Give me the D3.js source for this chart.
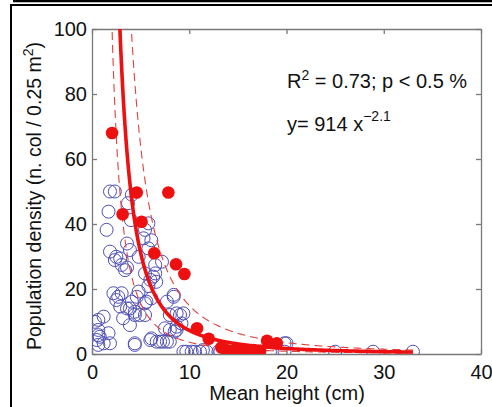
<!DOCTYPE html>
<html>
<head>
<meta charset="utf-8">
<script src="https://cdn.jsdelivr.net/npm/d3@7"></script>
<style>
  body { margin: 0; background: #fff; }
  text { font-family: "Liberation Sans", Arial, sans-serif; fill: #111; }
</style>
</head>
<body>
<script>
// fitted power law y = a * x^b, with the two dashed bands
var fitA = 914, fitB = -2.1;
var bandLowA = 457, bandHighA = 1880;
var fitRange = [1.5, 33];

var xTicks = [0, 10, 20, 30, 40];
var yTicks = [0, 20, 40, 60, 80, 100];

// red filled points
var redPoints = [
  [2.06, 68], [4.6, 49.7], [7.85, 49.7], [3.15, 43], [5.1, 40.7], [6.4, 31],
  [8.64, 27.6], [9.5, 24.6], [10.8, 7.9], [12.0, 4.7], [13.3, 2.0], [13.8, 1.2],
  [14.5, 1.0], [15.2, 1.2], [15.9, 1.0], [16.6, 1.2], [17.3, 1.0], [18.0, 4.1], [19.0, 3.3]
];

// blue open points
var openPoints = [
  [1.85, 50], [2.35, 50], [4.1, 49], [3.7, 46.4], [1.7, 43.8], [4.0, 41.2],
  [1.5, 38.2], [5.45, 38.2], [5.8, 40.2], [5.3, 35.6], [6.1, 35], [5.8, 32.5], [3.6, 34], [3.9, 32],
  [1.85, 31.5], [2.5, 29.9], [2.9, 29.4], [2.35, 28.9], [3.05, 27.4], [4.8, 29.9],
  [7.2, 28.4], [6.5, 27.4], [3.6, 26.6], [3.4, 25.8], [6.3, 23.8], [6.6, 22.2], [6.5, 24.8],
  [5.45, 24.8], [6.0, 22.8], [5.8, 20.9], [2.2, 18.7], [2.7, 17.6], [3.05, 18.7], [2.5, 16.6],
  [4.8, 19.2], [4.6, 17.6], [4.1, 16.1], [5.6, 16.1], [5.45, 15.6], [3.6, 14], [2.9, 14.6],
  [3.9, 14], [4.4, 13], [4.9, 12], [4.4, 12], [5.45, 12], [3.2, 11], [3.9, 8.9],
  [1.2, 11.5], [0.3, 9.9], [0.65, 10.5], [0.65, 7.4], [0.8, 5.3], [0.65, 5.8], [0.5, 4.3],
  [1.2, 3.3], [0.65, 2.8], [1.85, 3.3], [1.7, 6.4], [4.4, 2.8], [4.4, 3.3],
  [6.1, 4.8], [6.0, 4.3], [6.65, 3.8], [7.0, 3.8], [7.3, 3.8], [7.7, 3.8], [8.0, 3.8],
  [7.5, 7.9], [8.0, 7.4], [8.5, 6.9], [8.7, 8.4], [8.7, 7.4], [8.0, 12], [9.05, 12],
  [8.7, 12.5], [9.4, 12.5], [8.4, 17.6], [8.4, 18.2], [7.7, 16.1], [6.1, 17.1], [9.2, 9.4],
  [9.4, 0.7], [9.7, 0.7], [10.25, 0.7], [10.6, 0.7], [11.1, 0.7], [11.4, 1.2], [11.8, 0.7],
  [13.0, 0.7], [13.2, 0.7], [14.5, 0.7], [17.1, 0.7], [18.3, 0.7], [19.8, 0.7], [19.8, 3.3],
  [20.0, 3.3], [25, 0.7], [28.9, 0.7], [33, 0.7]
];

var W = 492, H = 407;
var pL = 92, pR = 481, pT = 29, pB = 354;

var svg = d3.select("body").append("svg").attr("width", W).attr("height", H);

// outer frame like the source figure
svg.append("line").attr("x1", 13).attr("x2", W).attr("y1", 1).attr("y2", 1)
  .style("stroke", "#000").style("stroke-width", 2.5);
svg.append("path").attr("d", "M11," + H + "V5H" + W)
  .style("fill", "none").style("stroke", "#000").style("stroke-width", 2);

var x = d3.scaleLinear().domain([0, 40]).range([pL, pR]);
var y = d3.scaleLinear().domain([0, 100]).range([pB, pT]);

svg.append("defs").append("clipPath").attr("id", "plot")
  .append("rect").attr("x", pL).attr("y", pT)
  .attr("width", pR - pL).attr("height", pB - pT);

// axes, matlab style box with inward ticks
var ax = svg.append("g").attr("class", "axes");
ax.append("g").attr("transform", "translate(0," + pB + ")")
  .call(d3.axisBottom(x).tickValues(xTicks).tickSizeInner(-5).tickSizeOuter(0).tickPadding(11));
ax.append("g").attr("transform", "translate(" + pL + ",0)")
  .call(d3.axisLeft(y).tickValues(yTicks).tickSizeInner(-5).tickSizeOuter(0).tickPadding(5));
ax.append("g").attr("transform", "translate(0," + pT + ")")
  .call(d3.axisTop(x).tickValues(xTicks).tickSizeInner(-5).tickSizeOuter(0).tickFormat(""));
ax.append("g").attr("transform", "translate(" + pR + ",0)")
  .call(d3.axisRight(y).tickValues(yTicks).tickSizeInner(-5).tickSizeOuter(0).tickFormat(""));
ax.selectAll("path, line").style("stroke", "#7a7a7a").style("stroke-width", 1.3);
ax.selectAll("text").style("font-size", "20px").style("fill", "#111")
  .style("font-family", "'Liberation Sans', Arial, sans-serif");

var plot = svg.append("g").attr("clip-path", "url(#plot)");

plot.selectAll("circle.open").data(openPoints).enter().append("circle")
  .attr("class", "open")
  .attr("cx", function(d) { return x(d[0]); })
  .attr("cy", function(d) { return y(d[1]); })
  .attr("r", 6.5)
  .style("fill", "none").style("stroke", "#4f4fb6").style("stroke-width", 1);

var xs = d3.range(fitRange[0], fitRange[1] + 0.001, 0.05);
var curve = function(a) {
  return d3.line()
    .x(function(d) { return x(d); })
    .y(function(d) { return y(a * Math.pow(d, fitB)); })(xs);
};

// dashed confidence bands
[bandLowA, bandHighA].forEach(function(a) {
  plot.append("path").attr("d", curve(a))
    .style("fill", "none").style("stroke", "#e4403f").style("stroke-width", 1.1)
    .style("stroke-dasharray", "8,5");
});

// fitted curve
plot.append("path").attr("d", curve(fitA))
  .style("fill", "none").style("stroke", "#ee1010").style("stroke-width", 3.6);

plot.selectAll("circle.red").data(redPoints).enter().append("circle")
  .attr("class", "red")
  .attr("cx", function(d) { return x(d[0]); })
  .attr("cy", function(d) { return y(d[1]); })
  .attr("r", 6.3)
  .style("fill", "#ee1010");

// annotations
var t1 = svg.append("text").attr("x", 287).attr("y", 88).style("font-size", "20px");
t1.append("tspan").text("R");
t1.append("tspan").attr("dy", -8).style("font-size", "14px").text("2");
t1.append("tspan").attr("dy", 8).text(" = 0.73; p < 0.5 %");

var t2 = svg.append("text").attr("x", 287).attr("y", 131).style("font-size", "20px");
t2.append("tspan").text("y= 914 x");
t2.append("tspan").attr("dy", -10).style("font-size", "14px").text("\u22122.1");

// axis labels
svg.append("text").attr("x", 287).attr("y", 400).attr("text-anchor", "middle")
  .style("font-size", "20px").text("Mean height (cm)");

var yl = svg.append("text").attr("transform", "translate(41,196) rotate(-90)")
  .attr("text-anchor", "middle").style("font-size", "19.5px");
yl.append("tspan").text("Population density (n. col / 0.25 m");
yl.append("tspan").attr("dy", -8).style("font-size", "14px").text("2");
yl.append("tspan").attr("dy", 8).text(")");
</script>
</body>
</html>
